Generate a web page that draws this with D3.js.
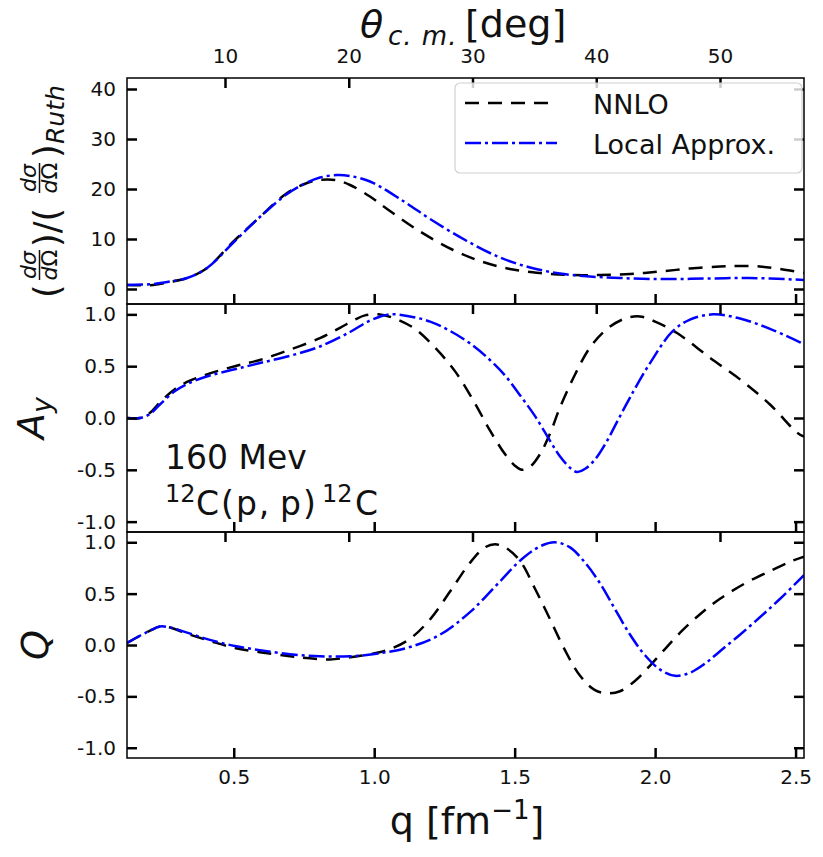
<!DOCTYPE html>
<html><head><meta charset="utf-8">
<script src="https://cdn.jsdelivr.net/npm/d3@7/dist/d3.min.js"></script>
<style>
body{margin:0;background:#fff;}
text{font-family:"DejaVu Sans",sans-serif;fill:#111;}
</style></head>
<body>
<svg id="chart" width="823" height="857"></svg>
<script>
// ---------- data ----------
const qTicks = [0.5, 1.0, 1.5, 2.0, 2.5];
const thetaTicks = [10, 20, 30, 40, 50];
const xsTicks = [0, 10, 20, 30, 40];
const polTicks = [-1.0, -0.5, 0.0, 0.5, 1.0];
const seriesNames = ["NNLO", "Local Approx."];

// cross section ratio
const xsNnloQ = [0.120,0.213,0.273,0.334,0.405,0.497,0.593,0.690,0.761,0.807,0.860,0.914,0.985,1.046,1.163,1.281,1.377,1.483,1.590,1.697,1.804,1.911,2.018,2.124,2.231,2.302,2.373,2.445,2.530];
const xsNnloV = [0.8,0.8,1.4,2.2,4.2,9.4,14.4,19.2,21.2,21.8,21.8,20.8,18.5,16.0,11.5,7.8,5.6,4.0,3.2,2.8,2.8,3.0,3.5,4.1,4.5,4.6,4.5,4.0,3.2];
const xsLocalQ = [0.120,0.213,0.273,0.334,0.405,0.497,0.593,0.690,0.761,0.807,0.868,0.914,0.985,1.103,1.199,1.330,1.448,1.555,1.661,1.768,1.875,1.982,2.089,2.196,2.302,2.409,2.530];
const xsLocalV = [0.8,1.0,1.5,2.2,4.2,9.2,14.4,19.0,21.3,22.3,22.8,22.6,21.5,17.6,14.0,9.6,6.3,4.3,3.1,2.5,2.2,2.0,2.0,2.1,2.2,2.1,1.8];

// analyzing power A_y
const ayNnloQ = [0.120,0.166,0.202,0.237,0.291,0.344,0.415,0.504,0.593,0.700,0.807,0.878,0.932,0.967,1.014,1.074,1.145,1.216,1.288,1.359,1.412,1.466,1.501,1.526,1.555,1.590,1.626,1.661,1.715,1.768,1.829,1.893,1.946,2.000,2.078,2.196,2.313,2.409,2.505,2.530];
const ayNnloV = [0,0,0.05,0.15,0.28,0.36,0.43,0.5,0.56,0.66,0.77,0.87,0.95,0.99,1.0,0.96,0.86,0.68,0.45,0.14,-0.12,-0.35,-0.46,-0.5,-0.47,-0.35,-0.15,0.1,0.42,0.68,0.86,0.96,0.98,0.93,0.82,0.58,0.35,0.13,-0.14,-0.18];
const ayLocalQ = [0.120,0.166,0.202,0.237,0.291,0.344,0.415,0.504,0.593,0.700,0.807,0.914,0.985,1.056,1.127,1.199,1.270,1.341,1.412,1.466,1.519,1.572,1.626,1.661,1.697,1.722,1.751,1.786,1.829,1.864,1.911,1.982,2.060,2.124,2.206,2.302,2.409,2.516,2.530];
const ayLocalV = [0,0,0.04,0.13,0.26,0.34,0.41,0.47,0.53,0.6,0.69,0.83,0.94,1.0,0.98,0.93,0.84,0.72,0.56,0.41,0.22,0.02,-0.22,-0.37,-0.48,-0.52,-0.49,-0.40,-0.22,-0.04,0.2,0.53,0.83,0.95,1.0,0.96,0.86,0.73,0.71];

// spin rotation Q
const qNnloQ = [0.120,0.166,0.202,0.237,0.273,0.334,0.415,0.504,0.593,0.700,0.771,0.843,0.914,0.985,1.056,1.127,1.199,1.270,1.341,1.394,1.430,1.466,1.519,1.572,1.626,1.679,1.733,1.786,1.829,1.875,1.928,1.982,2.035,2.089,2.160,2.231,2.320,2.409,2.480,2.530];
const qNnloV = [0.02,0.09,0.14,0.18,0.17,0.11,0.04,-0.03,-0.07,-0.11,-0.13,-0.14,-0.12,-0.09,-0.04,0.06,0.25,0.52,0.8,0.95,0.98,0.95,0.82,0.55,0.25,-0.05,-0.3,-0.44,-0.47,-0.45,-0.35,-0.2,-0.04,0.12,0.3,0.45,0.6,0.72,0.81,0.86];
const qLocalQ = [0.120,0.166,0.202,0.237,0.273,0.334,0.415,0.504,0.593,0.700,0.807,0.914,1.021,1.127,1.234,1.341,1.448,1.519,1.590,1.644,1.697,1.751,1.804,1.857,1.911,1.964,2.018,2.071,2.124,2.178,2.231,2.302,2.373,2.445,2.530];
const qLocalV = [0.02,0.09,0.14,0.18,0.17,0.12,0.05,-0.01,-0.05,-0.09,-0.11,-0.11,-0.08,-0.02,0.1,0.32,0.62,0.82,0.96,1.0,0.95,0.8,0.6,0.35,0.1,-0.1,-0.24,-0.3,-0.27,-0.18,-0.06,0.1,0.27,0.45,0.68];

// ---------- layout ----------
const svg = d3.select("#chart");
const L = 127, R = 804;
const x = d3.scaleLinear().domain([0.12, 2.53]).range([L, R]);
const xTheta = d3.scaleLinear().domain([2.08, 56.79]).range([L, R]);

const styles = [
  {color:"#000000", dash:"14,9"},
  {color:"#0000ff", dash:"16,4,3,4"}
];

const panels = [
  {top:78,  bottom:304, domain:[-3,42.2], ticks:xsTicks, fmt:d=>String(d),
   curves:[[xsNnloQ,xsNnloV],[xsLocalQ,xsLocalV]], topLabels:true, bottomLabels:false},
  {top:304, bottom:532, domain:[-1.1,1.1], ticks:polTicks, fmt:d=>d.toFixed(1),
   curves:[[ayNnloQ,ayNnloV],[ayLocalQ,ayLocalV]], topLabels:false, bottomLabels:false},
  {top:532, bottom:758, domain:[-1.1,1.1], ticks:polTicks, fmt:d=>d.toFixed(1),
   curves:[[qNnloQ,qNnloV],[qLocalQ,qLocalV]], topLabels:false, bottomLabels:true}
];

const TICK = 10, TW = 2.5;

panels.forEach((p, i) => {
  const y = d3.scaleLinear().domain(p.domain).range([p.bottom, p.top]);
  const g = svg.append("g");
  const clipId = "clip" + i;
  svg.append("clipPath").attr("id", clipId).append("rect")
    .attr("x", L).attr("y", p.top).attr("width", R - L).attr("height", p.bottom - p.top);

  const line = d3.line().x(d => x(d[0])).y(d => y(d[1])).curve(d3.curveCatmullRom.alpha(0.5));
  p.curves.forEach((c, k) => {
    const pts = c[0].map((q, j) => [q, c[1][j]]);
    g.append("path").datum(pts)
      .attr("clip-path", `url(#${clipId})`)
      .attr("d", line)
      .attr("fill", "none")
      .attr("stroke", styles[k].color)
      .attr("stroke-width", 2.5)
      .attr("stroke-dasharray", styles[k].dash);
  });

  g.append("rect").attr("x", L).attr("y", p.top).attr("width", R - L).attr("height", p.bottom - p.top)
    .attr("fill", "none").attr("stroke", "#000").attr("stroke-width", 1.5);

  const styleAxis = (sel) => {
    sel.select(".domain").remove();
    sel.selectAll(".tick line").attr("stroke", "#000").attr("stroke-width", TW);
    sel.selectAll(".tick text").style("font-family", "DejaVu Sans").style("font-size", "20px").attr("fill", "#111");
  };

  const ay = g.append("g").attr("transform", `translate(${L},0)`)
    .call(d3.axisLeft(y).tickValues(p.ticks).tickSize(-TICK).tickPadding(11).tickFormat(p.fmt));
  styleAxis(ay);
  const ar = g.append("g").attr("transform", `translate(${R},0)`)
    .call(d3.axisRight(y).tickValues(p.ticks).tickSize(-TICK).tickFormat(""));
  styleAxis(ar);
  const ab = g.append("g").attr("transform", `translate(0,${p.bottom})`)
    .call(d3.axisBottom(x).tickValues(qTicks).tickSize(-TICK).tickPadding(12)
      .tickFormat(p.bottomLabels ? d3.format(".1f") : ""));
  styleAxis(ab);
  const at = g.append("g").attr("transform", `translate(0,${p.top})`)
    .call(d3.axisTop(xTheta).tickValues(thetaTicks).tickSize(-TICK).tickPadding(15)
      .tickFormat(p.topLabels ? d3.format("d") : ""));
  styleAxis(at);
});

// ---------- titles ----------
const tt = svg.append("text").attr("y", 37).style("font-size", "38px");
tt.append("tspan").attr("x", 360).text("θ").style("font-style", "italic");
tt.append("tspan").attr("x", 388).attr("dy", 8).text("c. m.").style("font-style", "italic").style("font-size", "26px").style("letter-spacing", "1px");
tt.append("tspan").attr("x", 465).attr("dy", -8).text("[deg]");

const bt = svg.append("text").attr("x", 467).attr("y", 834).attr("text-anchor", "middle").style("font-size", "38px");
bt.append("tspan").text("q [fm");
bt.append("tspan").text("−1").style("font-size", "26px").attr("dy", -15);
bt.append("tspan").text("]").attr("dy", 15);

const ayl = svg.append("text").attr("transform", "translate(44,418) rotate(-90)").attr("text-anchor", "middle").style("font-size", "38px").style("font-style", "italic");
ayl.append("tspan").text("A");
ayl.append("tspan").text("y").style("font-size", "27px").attr("dy", 7);

svg.append("text").attr("transform", "translate(48,645) rotate(-90)").attr("text-anchor", "middle").style("font-size", "38px").style("font-style", "italic").text("Q");

// cross section ratio label
const yl = svg.append("g").attr("transform", "translate(40,190) rotate(-90)");
const paren = (t, lx) => yl.append("text").attr("x", lx).attr("y", 19).style("font-size", "35px").text(t);
function frac(cx) {
  const n = yl.append("text").attr("x", cx).attr("y", -4).attr("text-anchor", "middle").style("font-size", "22px");
  n.append("tspan").text("dσ").style("font-style", "italic");
  const d = yl.append("text").attr("x", cx).attr("y", 17).attr("text-anchor", "middle").style("font-size", "22px");
  d.append("tspan").text("d").style("font-style", "italic");
  d.append("tspan").text("Ω");
  yl.append("line").attr("x1", cx - 15).attr("x2", cx + 15).attr("y1", -0.5).attr("y2", -0.5)
    .attr("stroke", "#111").attr("stroke-width", 1.5);
}
paren("(", -108);
frac(-75);
paren(")/(", -57);
frac(12);
paren(")", 32);
yl.append("text").attr("x", 46).attr("y", 24).style("font-size", "25px").style("font-style", "italic").text("Ruth");

// annotation
svg.append("text").attr("x", 165).attr("y", 469).style("font-size", "33px").text("160 Mev");
const rx = svg.append("text").attr("y", 515).style("font-size", "33px");
rx.append("tspan").attr("x", 165).attr("dy", -13).text("12").style("font-size", "24px");
rx.append("tspan").attr("x", 196).attr("dy", 13).style("letter-spacing", "2px").text("C(p,\u2009p)");
rx.append("tspan").attr("x", 322).attr("dy", -13).text("12").style("font-size", "24px");
rx.append("tspan").attr("x", 355).attr("dy", 13).text("C");

// legend
const lg = svg.append("g");
lg.append("rect").attr("x", 455).attr("y", 83).attr("width", 347).attr("height", 90).attr("rx", 5)
  .attr("fill", "#fff").attr("fill-opacity", 0.8).attr("stroke", "#d0d0d0").attr("stroke-width", 1.2);
seriesNames.forEach((name, k) => {
  const yy = 103 + k * 40;
  lg.append("line").attr("x1", 465).attr("x2", 557).attr("y1", yy).attr("y2", yy)
    .attr("stroke", styles[k].color).attr("stroke-width", 2.5).attr("stroke-dasharray", styles[k].dash);
  lg.append("text").attr("x", 593).attr("y", yy + 11).style("font-size", "27px").text(name);
});
</script>
</body></html>
